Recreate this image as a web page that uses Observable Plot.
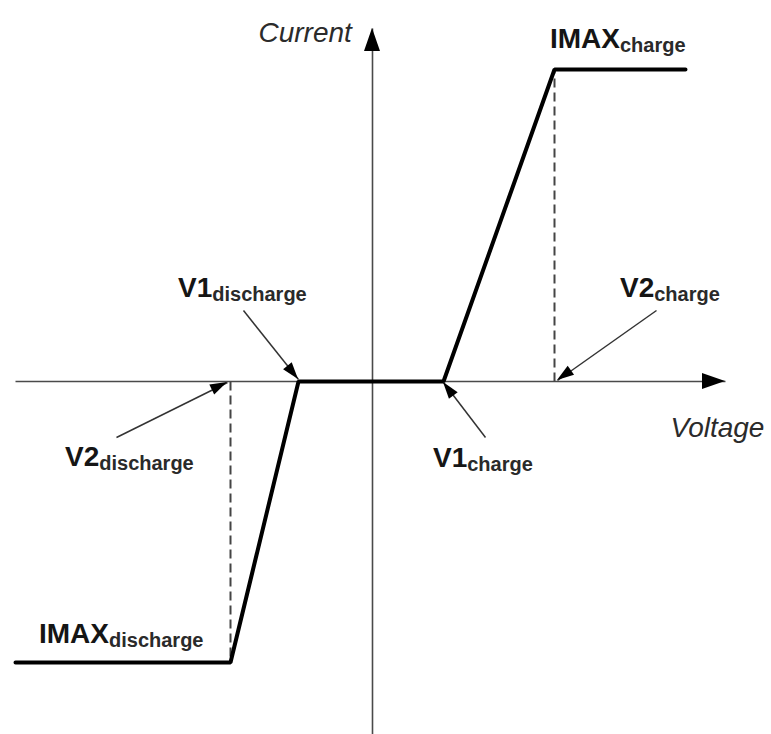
<!DOCTYPE html>
<html><head><meta charset="utf-8">
<script src="https://cdn.jsdelivr.net/npm/d3@7"></script>
<script src="https://cdn.jsdelivr.net/npm/@observablehq/plot@0.6"></script>
<style>html,body{margin:0;padding:0;background:#fff}</style>
</head><body><div id="chart"></div>
<script>
// Characteristic curve (voltage / current, schematic units)
const curveVoltage = [-357, -142, -74, 71, 182, 313];
const curveCurrent = [-281, -281, 0, 0, 312, 312];
// Dashed drop lines at V2 points
const dropVoltage = [-142, 182];
const dropCurrent = [-281, 312];
// Axes (from -> to)
const axisNames = ["Voltage", "Current"];
const axisFromV = [-357, 0];
const axisFromI = [0, -353];
const axisToV = [353, 0];
const axisToI = [0, 353];
const axisLabelV = [298, -114];
const axisLabelI = [-49, 346];
// Callout labels
const calloutNames = ["V1", "V2", "V2", "V1", "IMAX", "IMAX"];
const calloutSubs = ["discharge", "charge", "discharge", "charge", "charge", "discharge"];
const labelV = [-194, 248, -307, 61, 178, -333];
const labelI = [84, 84, -85, -86, 333, -262];
// Pointer arrows for the first four callouts
const pointerFromV = [-129, 284, -256, 113];
const pointerFromI = [71, 71, -56, -56];
const pointerToV = [-74, 185, -145, 71];
const pointerToI = [2, 1, -1, -1];

const SVGNS = "http://www.w3.org/2000/svg";
const FONT = "'Liberation Sans', Arial, Helvetica, sans-serif";

const curve = curveVoltage.map((v, k) => ({v, i: curveCurrent[k]}));
const drops = dropVoltage.map((v, k) => ({v, i: dropCurrent[k]}));
const axes = axisNames.map((name, k) => ({name, v1: axisFromV[k], i1: axisFromI[k], v2: axisToV[k], i2: axisToI[k], lv: axisLabelV[k], li: axisLabelI[k]}));
const pointers = pointerFromV.map((v1, k) => ({v1, i1: pointerFromI[k], v2: pointerToV[k], i2: pointerToI[k]}));
const callouts = calloutNames.map((name, k) => ({name, sub: calloutSubs[k], v: labelV[k], i: labelI[k]}));

function heads(list, len, wid, fill) {
  return (index, scales, values, dims, context) => {
    const doc = (context && context.document) || document;
    const g = doc.createElementNS(SVGNS, "g");
    for (const d of list) {
      const x1 = scales.x(d.v1), y1 = scales.y(d.i1), x2 = scales.x(d.v2), y2 = scales.y(d.i2);
      const a = Math.atan2(y2 - y1, x2 - x1);
      const bx = x2 - len * Math.cos(a), by = y2 - len * Math.sin(a);
      const px = -Math.sin(a) * wid / 2, py = Math.cos(a) * wid / 2;
      const p = doc.createElementNS(SVGNS, "path");
      p.setAttribute("d", `M${x2},${y2}L${bx + px},${by + py}L${bx - px},${by - py}Z`);
      p.setAttribute("fill", fill);
      g.appendChild(p);
    }
    return g;
  };
}

function labels(index, scales, values, dims, context) {
  const doc = (context && context.document) || document;
  const g = doc.createElementNS(SVGNS, "g");
  for (const d of callouts) {
    const t = doc.createElementNS(SVGNS, "text");
    t.setAttribute("x", scales.x(d.v));
    t.setAttribute("y", scales.y(d.i));
    t.setAttribute("font-family", FONT);
    t.setAttribute("font-weight", "bold");
    t.setAttribute("text-anchor", "start");
    const m = doc.createElementNS(SVGNS, "tspan");
    m.setAttribute("font-size", 28);
    m.setAttribute("fill", "#151515");
    m.textContent = d.name;
    const s = doc.createElementNS(SVGNS, "tspan");
    s.setAttribute("font-size", 20);
    s.setAttribute("dy", 4);
    s.setAttribute("fill", "#2a2a2a");
    s.textContent = d.sub;
    t.appendChild(m); t.appendChild(s);
    g.appendChild(t);
  }
  return g;
}

const chart = Plot.plot({
  width: 771,
  height: 734,
  margin: 0,
  x: {domain: [-372, 399], axis: null},
  y: {domain: [-353, 381], axis: null},
  marks: [
    Plot.link(axes, {x1: "v1", y1: "i1", x2: "v2", y2: "i2", stroke: "#4a4a4a", strokeWidth: 1.6}),
    heads(axes, 23, 16, "#000"),
    Plot.text(axes, {x: "lv", y: "li", text: "name", textAnchor: "start", lineAnchor: "bottom", fontSize: 28, fontStyle: "italic", fontFamily: FONT, fill: "#2b2b2b", dy: 6}),
    Plot.link(drops, {x1: "v", y1: 0, x2: "v", y2: "i", stroke: "#444", strokeWidth: 2, strokeDasharray: "9,5"}),
    Plot.line(curve, {x: "v", y: "i", stroke: "#000", strokeWidth: 4, strokeLinejoin: "miter", strokeLinecap: "round"}),
    Plot.link(pointers, {x1: "v1", y1: "i1", x2: "v2", y2: "i2", stroke: "#333", strokeWidth: 1.5}),
    heads(pointers, 17, 11, "#000"),
    labels
  ]
});
document.getElementById("chart").appendChild(chart);
</script>
</body></html>
